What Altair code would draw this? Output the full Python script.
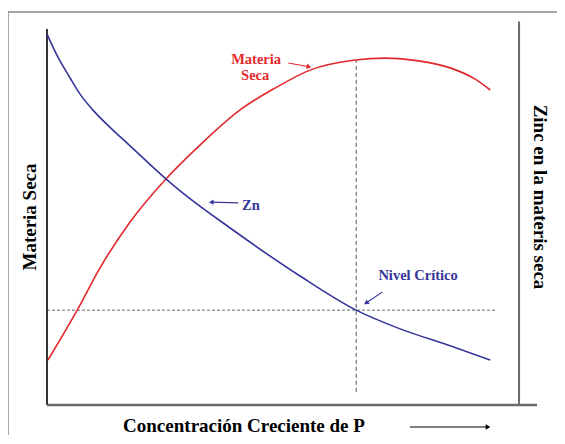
import altair as alt
import pandas as pd

# ---- data (x: P concentration 0-10, y: 0-100) ----
red_x = [0.02, 0.64, 1.12, 1.76, 2.50, 3.24, 4.09, 4.83, 5.57, 6.53, 7.16, 7.90, 8.54, 9.07, 9.39]
red_y = [12.0, 25.3, 36.5, 48.8, 60.0, 69.3, 78.7, 84.5, 89.3, 92.0, 92.5, 91.7, 89.9, 86.9, 84.0]

blue_x = [0.0, 0.21, 0.49, 0.70, 0.97, 1.33, 1.76, 2.50, 2.82, 3.88, 5.36, 6.55, 7.48, 8.54, 9.39]
blue_y = [98.9, 93.3, 87.2, 82.9, 78.7, 74.1, 69.1, 60.5, 57.1, 47.2, 34.4, 25.3, 20.3, 15.8, 12.0]

critical_x = 6.55
critical_y = 25.3
hline_end = 9.53
vline_bottom = 3.5
vline_top = 92.0

x_max = 10.38
right_axis_x = 10.0

RED = "#e2282c"
BLUE = "#35359a"
FONT = "Liberation Serif"

xs = alt.Scale(domain=[0, x_max], nice=False, zero=False)
ys = alt.Scale(domain=[0, 100], nice=False, zero=False)
X = lambda f: alt.X(f, type="quantitative", scale=xs, axis=None)
Y = lambda f: alt.Y(f, type="quantitative", scale=ys, axis=None)

red_df = pd.DataFrame({"x": red_x, "y": red_y})
blue_df = pd.DataFrame({"x": blue_x, "y": blue_y})

red_line = alt.Chart(red_df).mark_line(color=RED, strokeWidth=1.6, interpolate="monotone").encode(x=X("x"), y=Y("y"))
blue_line = alt.Chart(blue_df).mark_line(color=BLUE, strokeWidth=1.6, interpolate="monotone").encode(x=X("x"), y=Y("y"))

# dashed guide lines
h_df = pd.DataFrame({"x": [0.0], "x2": [hline_end], "y": [critical_y]})
v_df = pd.DataFrame({"x": [critical_x], "y": [vline_bottom], "y2": [vline_top]})
hdash = alt.Chart(h_df).mark_rule(color="#666666", strokeDash=[3, 2], strokeWidth=1).encode(
    x=X("x"), x2="x2:Q", y=Y("y"))
vdash = alt.Chart(v_df).mark_rule(color="#555555", strokeDash=[4, 3], strokeWidth=1).encode(
    x=X("x"), y=Y("y"), y2="y2:Q")

# axes lines
left_df = pd.DataFrame({"x": [0.0], "y": [0.0], "y2": [100.3]})
right_df = pd.DataFrame({"x": [right_axis_x], "y": [0.0], "y2": [102.3]})
bottom_df = pd.DataFrame({"x": [0.0], "x2": [x_max], "y": [0.0]})
left_axis = alt.Chart(left_df).mark_rule(color="#333333", strokeWidth=2).encode(x=X("x"), y=Y("y"), y2="y2:Q")
right_axis = alt.Chart(right_df).mark_rule(color="#6a6a6a", strokeWidth=2).encode(x=X("x"), y=Y("y"), y2="y2:Q")
bottom_axis = alt.Chart(bottom_df).mark_rule(color="#6a6a6a", strokeWidth=2.5).encode(x=X("x"), x2="x2:Q", y=Y("y"))

# annotations
ms_text = pd.DataFrame({"x": [4.43, 4.41], "y": [92.0, 87.8], "t": ["Materia", "Seca"]})
ms_label = alt.Chart(ms_text).mark_text(color=RED, font=FONT, fontWeight="bold", fontSize=14.5).encode(
    x=X("x"), y=Y("y"), text="t:N")
ms_arrow = alt.Chart(pd.DataFrame({"x": [5.11], "x2": [5.55], "y": [91.2], "y2": [90.2]})).mark_rule(
    color=RED, strokeWidth=1.2).encode(x=X("x"), x2="x2:Q", y=Y("y"), y2="y2:Q")
ms_head = alt.Chart(pd.DataFrame({"x": [5.55], "y": [90.2]})).mark_point(
    shape="triangle-right", filled=True, color=RED, size=30, angle=12, opacity=1).encode(x=X("x"), y=Y("y"))

zn_label = alt.Chart(pd.DataFrame({"x": [4.32], "y": [53.1], "t": ["Zn"]})).mark_text(
    color=BLUE, font=FONT, fontWeight="bold", fontSize=14.5).encode(x=X("x"), y=Y("y"), text="t:N")
zn_arrow = alt.Chart(pd.DataFrame({"x": [4.05], "x2": [3.48], "y": [53.9], "y2": [54.1]})).mark_rule(
    color=BLUE, strokeWidth=1.2).encode(x=X("x"), x2="x2:Q", y=Y("y"), y2="y2:Q")
zn_head = alt.Chart(pd.DataFrame({"x": [3.48], "y": [54.1]})).mark_point(
    shape="triangle-left", filled=True, color=BLUE, size=30, opacity=1).encode(x=X("x"), y=Y("y"))

nc_label = alt.Chart(pd.DataFrame({"x": [7.86], "y": [34.4], "t": ["Nivel Crítico"]})).mark_text(
    color=BLUE, font=FONT, fontWeight="bold", fontSize=14.5).encode(x=X("x"), y=Y("y"), text="t:N")
nc_arrow = alt.Chart(pd.DataFrame({"x": [7.10], "x2": [6.76], "y": [30.1], "y2": [27.2]})).mark_rule(
    color=BLUE, strokeWidth=1.2).encode(x=X("x"), x2="x2:Q", y=Y("y"), y2="y2:Q")
nc_head = alt.Chart(pd.DataFrame({"x": [6.76], "y": [27.2]})).mark_point(
    shape="triangle-left", filled=True, color=BLUE, size=30, angle=325, opacity=1).encode(x=X("x"), y=Y("y"))

# axis titles
base = alt.Chart(pd.DataFrame({"a": [0]}))
left_title = base.mark_text(text="Materia Seca", font=FONT, fontWeight="bold", fontSize=19,
                            angle=270, color="black").encode(x=alt.value(-17), y=alt.value(187))
right_title = base.mark_text(text="Zinc en la materis seca", font=FONT, fontWeight="bold", fontSize=19,
                             angle=90, color="black").encode(x=alt.value(493), y=alt.value(167))
bottom_title = base.mark_text(text="Concentración Creciente de P", font=FONT, fontWeight="bold", fontSize=19,
                              color="black").encode(x=alt.value(197), y=alt.value(396))
bottom_arrow = base.mark_rule(color="black", strokeWidth=1.2).encode(
    x=alt.value(363), x2=alt.value(440), y=alt.value(397))
bottom_head = base.mark_point(shape="triangle-right", filled=True, color="black", size=30, opacity=1).encode(
    x=alt.value(441), y=alt.value(397))

# slide frame
frame_top = base.mark_rule(color="#8a8a8a", strokeWidth=1.5).encode(
    x=alt.value(-39), x2=alt.value(520), y=alt.value(-18))
frame_left = base.mark_rule(color="#8a8a8a", strokeWidth=1.5).encode(
    x=alt.value(-39), y=alt.value(-18), y2=alt.value(410))

chart = alt.layer(
    frame_top, frame_left,
    hdash, vdash,
    left_axis, right_axis, bottom_axis,
    red_line, blue_line,
    ms_label, ms_arrow, ms_head,
    zn_label, zn_arrow, zn_head,
    nc_label, nc_arrow, nc_head,
    left_title, right_title, bottom_title, bottom_arrow, bottom_head,
).properties(
    width=490, height=375,
    autosize=alt.AutoSizeParams(type="none"),
    padding={"left": 39, "top": 22, "right": 20, "bottom": 30},
).configure_view(stroke=None)

chart.save("out.html", embed_options={"renderer": "svg", "actions": False})
